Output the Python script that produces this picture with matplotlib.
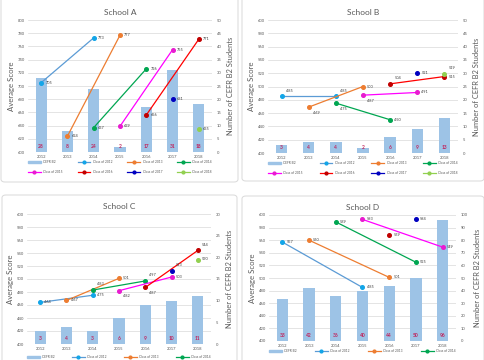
import matplotlib.pyplot as plt
from matplotlib.patches import FancyBboxPatch, Patch
from matplotlib.lines import Line2D

plt.rcParams['font.family'] = ['Lato', 'DejaVu Sans']

W, H = 485, 360

years = [2012, 2013, 2014, 2015, 2016, 2017, 2018]
class_names = ['Class of 2012', 'Class of 2013', 'Class of 2014', 'Class of 2015',
               'Class of 2016', 'Class of 2017', 'Class of 2018']
line_colors = ['#5B9BD5', '#ED7D31', '#00A651', '#FF00FF', '#FF0000', '#0000C0', '#92D050']
marker_colors = ['#12A5E8', '#ED7D31', '#00A651', '#E81CD0', '#C00000', '#0000C0', '#92D050']

# School A
a_b2 = [28, 8, 24, 2, 17, 31, 18]
a_years = [[2012, 2014], [2013, 2015], [2014, 2016], [2015, 2017], [2016, 2018], [2017], [2018]]
a_scores = [[705, 773], [624, 777], [637, 726], [639, 755], [656, 771], [681], [635]]

# School B
b_b2 = [3, 4, 4, 2, 6, 9, 13]
b_years = [[2012, 2014], [2013, 2015], [2014, 2016], [2015, 2017], [2016, 2018], [2017], [2018]]
b_scores = [[485, 485], [469, 500], [475, 450], [487, 491], [504, 515], [521], [519]]

# School C
c_b2 = [3, 4, 3, 6, 9, 10, 11]
c_years = [[2012, 2014], [2013, 2015], [2014, 2016], [2015, 2017], [2016, 2018], [2017], [2018]]
c_scores = [[464, 475], [467, 501], [483, 497], [482, 503], [487, 544], [513], [530]]

# School D
d_b2 = [33, 42, 36, 40, 44, 50, 96]
d_years = [[2012, 2015], [2013, 2016], [2014, 2017], [2015, 2018], [2016], [2017]]
d_scores = [[557, 485], [560, 501], [589, 525], [593, 549], [569], [594]]

# label placement per point
offsets = {'r': (3, 0), 'ur': (3, 4), 'dr': (3, -4), 'u': (1, 5)}
a_pos = [['r', 'r'], ['r', 'r'], ['r', 'r'], ['r', 'r'], ['r', 'r'], ['r'], ['r']]
b_pos = [['ur', 'ur'], ['dr', 'r'], ['dr', 'r'], ['dr', 'r'], ['ur', 'r'], ['r'], ['ur']]
c_pos = [['r', 'r'], ['r', 'r'], ['ur', 'ur'], ['dr', 'r'], ['dr', 'ur'], ['ur'], ['r']]
d_pos = [['r', 'r'], ['r', 'r'], ['r', 'r'], ['r', 'r'], ['r'], ['r']]

gray = '#595959'
fig = plt.figure(figsize=(W / 100, H / 100), dpi=100)


def box(x0, y0, x1, y1):
    p = FancyBboxPatch((x0 / W, 1 - y1 / H), (x1 - x0) / W, (y1 - y0) / H,
                       boxstyle='round,pad=0,rounding_size=0.008',
                       transform=fig.transFigure, fc='white', ec='#D9D9D9', lw=0.7,
                       zorder=-10)
    fig.add_artist(p)


def panel(rect, title, b2, cls_years, cls_scores, pos, ylo, rmax, rstep, leg_gap, leg_n):
    x0, y0, x1, y1 = rect
    ax = fig.add_axes([x0 / W, 1 - y1 / H, (x1 - x0) / W, (y1 - y0) / H])
    ax.patch.set_visible(False)
    ax.set_xlim(-0.5, 6.5)
    ax.set_ylim(ylo, ylo + 200)
    ax.set_yticks(range(ylo, ylo + 201, 20))
    ax.set_xticks(range(len(years)))
    ax.set_xticklabels(years)
    ax.grid(axis='y', color='#D9D9D9', lw=0.5)
    ax.tick_params(length=0, labelsize=3, colors=gray, pad=2)
    for s in ax.spines.values():
        s.set_visible(False)
    ax.set_ylabel('Average Score', fontsize=5.6, color=gray, labelpad=2)
    ax.set_title(title, fontsize=6, color=gray, pad=3.5)

    ax2 = ax.twinx()
    ax2.set_ylim(0, rmax)
    ax2.set_yticks(range(0, rmax + 1, rstep))
    ax2.tick_params(length=0, labelsize=3, colors=gray, pad=3.5)
    for s in ax2.spines.values():
        s.set_visible(False)
    ax2.set_ylabel('Number of CEFR B2 Students', fontsize=5.4, color=gray, labelpad=4)
    ax2.bar(range(len(years)), b2, width=0.42, color='#9DC3E6')
    for i, v in enumerate(b2):
        ax2.annotate(str(v), (i, 0), xytext=(0, 3.8), textcoords='offset points',
                     ha='center', va='center', fontsize=3.5, fontweight='bold', color='#C0245C')

    ax3 = ax.twinx()
    ax3.set_ylim(ylo, ylo + 200)
    ax3.axis('off')
    handles = [Patch(color='#9DC3E6', label='CEFR B2')]
    for k, (ys, vals) in enumerate(zip(cls_years, cls_scores)):
        xs = [years.index(y) for y in ys]
        ax3.plot(xs, vals, color=line_colors[k], lw=0.9, marker='o', ms=2.6,
                 mfc=marker_colors[k], mec=marker_colors[k])
        for x, v, p in zip(xs, vals, pos[k]):
            ax3.annotate(str(v), (x, v), xytext=offsets[p], textcoords='offset points',
                         ha='left', va='center', fontsize=2.8, color='#404040')
        handles.append(Line2D([], [], color=line_colors[k], lw=0.9, marker='o', ms=2,
                              mfc=marker_colors[k], mec=marker_colors[k],
                              label=class_names[k]))
    handles = handles[:leg_n]
    n = len(handles)
    order = [r * 4 + c for c in range(4) for r in range(2) if r * 4 + c < n]
    hh = [handles[i] for i in order]
    ax.legend(handles=hh, ncol=4, loc='upper left', mode='expand',
              bbox_to_anchor=(0, -leg_gap / (y1 - y0), 1, 0), frameon=False,
              fontsize=2.3, labelcolor=gray, handlelength=4, handleheight=0.6,
              labelspacing=1.8, borderaxespad=0, borderpad=0, handletextpad=0.8,
              columnspacing=1.0)


box(1, -5, 238, 182)
box(242, -5, 484, 181)
box(2, 195, 237, 370)
box(242, 196, 484, 370)

panel((28, 20, 212, 152), 'School A', a_b2, a_years, a_scores, a_pos, 600, 50, 5, 8, 8)
panel((268, 20, 458, 153), 'School B', b_b2, b_years, b_scores, b_pos, 400, 50, 5, 8, 8)
panel((27, 214, 211, 344), 'School C', c_b2, c_years, c_scores, c_pos, 400, 30, 5, 11, 4)
panel((269, 215, 456, 341), 'School D', d_b2, d_years, d_scores, d_pos, 400, 100, 10, 8, 4)

fig.savefig('out.png', dpi=100, facecolor='white')
